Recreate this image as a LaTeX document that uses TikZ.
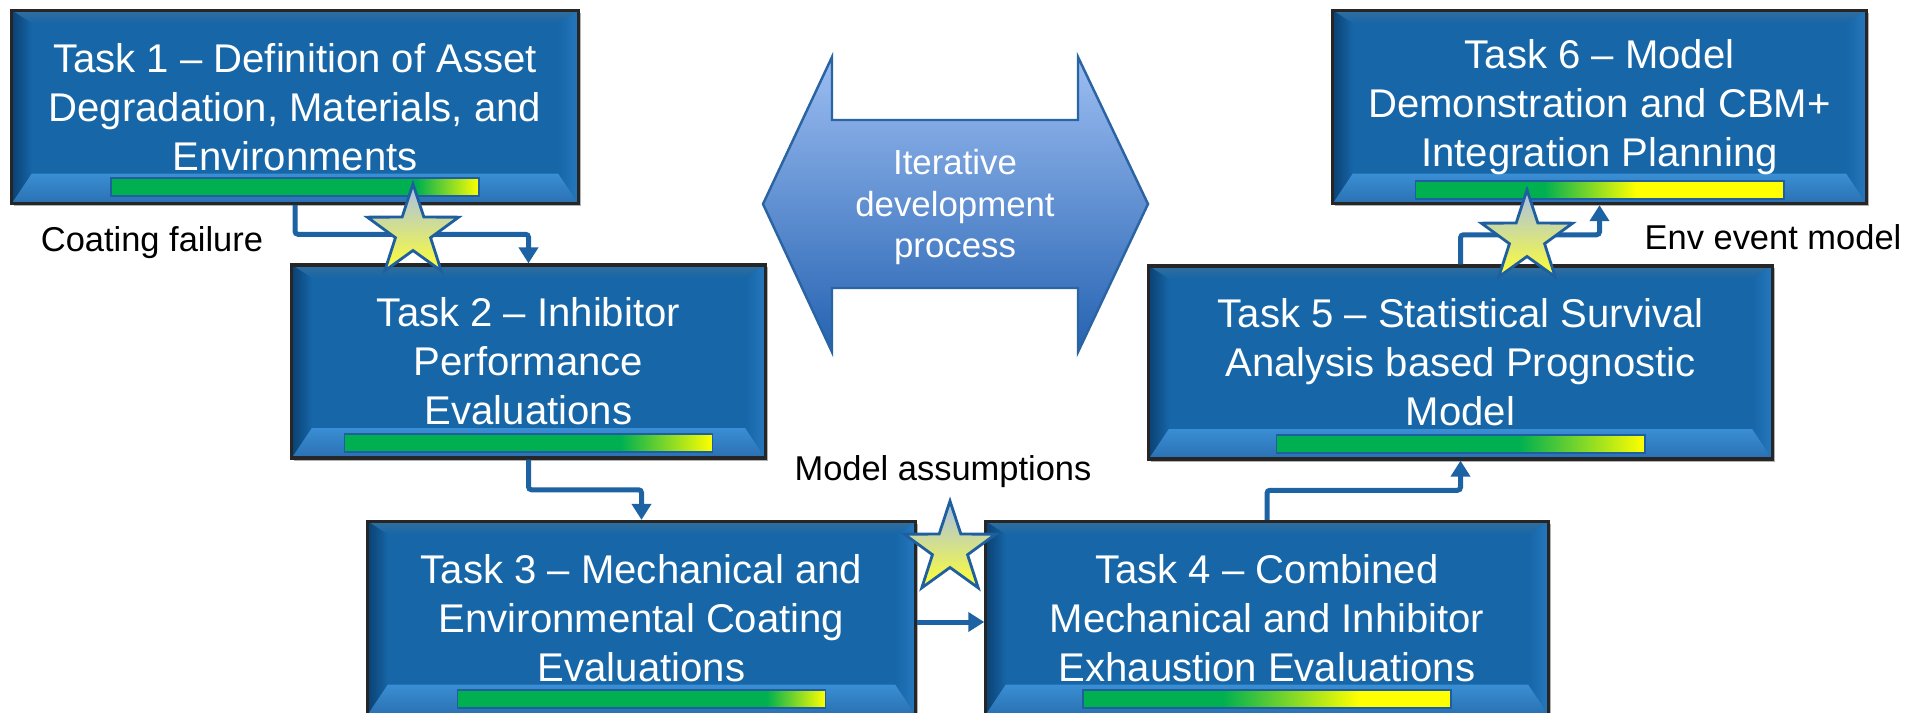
\documentclass[tikz,border=0pt]{standalone}
\usepackage{fontspec}
\setmainfont{Liberation Sans}
\usetikzlibrary{arrows.meta,shapes.geometric,calc}

\definecolor{taskblue}{HTML}{1666A8}
\definecolor{bevtop}{HTML}{336E9C}
\definecolor{bevside}{HTML}{0B4172}
\definecolor{bevrgt}{HTML}{2677BC}
\definecolor{bevlo}{HTML}{3A8ED4}
\definecolor{bevmid}{HTML}{58AFEE}
\definecolor{bevhi}{HTML}{2A70B2}
\definecolor{flowblue}{HTML}{1D62A3}
\definecolor{starline}{HTML}{1F5F9F}
\definecolor{startop}{HTML}{A6BFEB}
\definecolor{starbot}{HTML}{FFFF33}
\definecolor{iterTop}{HTML}{9DBEF2}
\definecolor{iterBot}{HTML}{2462B1}
\definecolor{iterLine}{HTML}{2B64A2}
\definecolor{barG}{HTML}{00B050}
\definecolor{barY}{HTML}{FFFF00}

\pgfdeclarehorizontalshading{barA}{100bp}{color(0bp)=(barG); color(66.5bp)=(barG); color(75bp)=(barY); color(100bp)=(barY)}
\pgfdeclarehorizontalshading{barB}{100bp}{color(0bp)=(barG); color(62.5bp)=(barG); color(75bp)=(barY); color(100bp)=(barY)}
\pgfdeclarehorizontalshading{barC}{100bp}{color(0bp)=(barG); color(67bp)=(barG); color(75bp)=(barY); color(100bp)=(barY)}
\pgfdeclarehorizontalshading{barD}{100bp}{color(0bp)=(barG); color(44bp)=(barG); color(62.5bp)=(barY); color(100bp)=(barY)}
\pgfdeclarehorizontalshading{barE}{100bp}{color(0bp)=(barG); color(58bp)=(barG); color(75bp)=(barY); color(100bp)=(barY)}
\pgfdeclarehorizontalshading{barF}{100bp}{color(0bp)=(barG); color(42.5bp)=(barG); color(55bp)=(barY); color(100bp)=(barY)}

\begin{document}
\begin{tikzpicture}[x=0.01cm, y=-0.01cm,
                    task/.style={draw=black!85, line width=0.9pt, fill=taskblue,
                                 preaction={fill=black!30, transform canvas={shift={(0.025cm,-0.025cm)}}},
                                 text=white, align=center, inner sep=0pt,
                                 minimum height=1.93cm,
                                 font=\fontsize{11.4}{13.9}\selectfont,
                                 path picture={
                                   \coordinate (pa) at (path picture bounding box.south west);
                                   \coordinate (pb) at (path picture bounding box.north east);
                                   \coordinate (pc) at (path picture bounding box.north west);
                                   \coordinate (pd) at (path picture bounding box.south east);
                                   \coordinate (ia) at ([shift={(0.2cm,0.3cm)}]pa);
                                   \coordinate (ib) at ([shift={(-0.2cm,-0.13cm)}]pb);
                                   \coordinate (ic) at ([shift={(0.2cm,-0.13cm)}]pc);
                                   \coordinate (id) at ([shift={(-0.2cm,0.3cm)}]pd);
                                   \shade[top color=bevtop, bottom color=taskblue] (pc) -- (pb) -- (ib) -- (ic) -- cycle;
                                   \shade[left color=bevside, right color=taskblue] (pa) -- (pc) -- (ic) -- (ia) -- cycle;
                                   \shade[left color=taskblue, right color=bevrgt] (pd) -- (pb) -- (ib) -- (id) -- cycle;
                                   \shade[top color=bevlo, middle color=bevmid, bottom color=bevhi] (pa) -- (pd) -- (id) -- (ia) -- cycle;
                                 }},
                    bar/.style={draw=starline, line width=0.5pt, minimum width=3.68cm,
                                minimum height=0.18cm, inner sep=0pt, anchor=south},
                    flow/.style={draw=flowblue, line width=0.05cm, rounded corners=0.03cm,
                                 -{Triangle[width=0.19cm,length=0.16cm]}},
                    milestone/.style={star, star points=5, star point ratio=2.6,
                                      minimum size=0.96cm, inner sep=0pt, draw=starline,
                                      line width=0.8pt, top color=startop, bottom color=starbot},
                    note/.style={font=\fontsize{9.8}{12}\selectfont}]

  \useasboundingbox (0,0) rectangle (1921,712);

  % iterative loop arrow
  \shade[top color=iterTop, bottom color=iterBot, draw=iterLine, line width=0.7pt]
    (763,204) -- (832,57) -- (832,120) -- (1078,120) -- (1078,57) -- (1148,204)
    -- (1078,352) -- (1078,288) -- (832,288) -- (832,352) -- cycle;
  \node[text=white, align=center, font=\fontsize{9.9}{11.9}\selectfont] (iter) at (955,207)
    {Iterative\\development\\process};

  % tasks
  \node[task, minimum width=5.66cm] (t1) at (295,107)
    {Task 1 -- Definition of Asset\\Degradation, Materials, and\\Environments};
  \node[task, minimum width=4.73cm] (t2) at (528.5,361.5)
    {Task 2 -- Inhibitor\\Performance\\Evaluations};
  \node[task, minimum width=5.47cm] (t3) at (641.5,618)
    {Task 3 -- Mechanical and\\Environmental Coating\\Evaluations};
  \node[task, minimum width=5.62cm] (t4) at (1267,618)
    {Task 4 -- Combined\\Mechanical and Inhibitor\\Exhaustion Evaluations};
  \node[task, minimum width=6.23cm] (t5) at (1460.5,362.5)
    {Task 5 -- Statistical Survival\\Analysis based Prognostic\\Model};
  \node[task, minimum width=5.33cm] (t6) at (1599.5,107)
    {Task 6 -- Model\\Demonstration and CBM+\\Integration Planning};

  % progress bars
  \node[bar, shading=barA] (b1) at ([yshift=0.08cm]t1.south) {};
  \node[bar, shading=barB] (b2) at ([yshift=0.07cm]t2.south) {};
  \node[bar, shading=barC] (b3) at ([yshift=0.07cm]t3.south) {};
  \node[bar, shading=barD] (b4) at ([yshift=0.07cm]t4.south) {};
  \node[bar, shading=barE] (b5) at ([yshift=0.07cm]t5.south) {};
  \node[bar, shading=barF] (b6) at ([yshift=0.05cm]t6.south) {};

  % hand-offs
  \draw[flow] (t1.south) |- ($(t1.south)!.5!(t2.north)$) -| (t2.north);
  \draw[flow] (t2.south) |- ($(t2.south)!.5!(t3.north)$) -| (t3.north);
  \draw[flow] ([yshift=-0.04cm]t3.east) -- ([yshift=-0.04cm]t4.west);
  \draw[flow] (t4.north) |- ($(t4.north)!.5!(t5.south)$) -| (t5.south);
  \draw[flow] (t5.north) |- ($(t5.north)!.5!(t6.south)$) -| (t6.south);

  \node[note] (l1) at (152,243) {Coating failure};
  \node[note] (l3) at (943,472) {Model assumptions};
  \node[note] (l5) at (1773,237) {Env event model};

  \node[milestone] (s1) at (413,232) {};
  \node[milestone] (s3) at (950,549) {};
  \node[milestone] (s5) at (1527,238) {};
\end{tikzpicture}
\end{document}
